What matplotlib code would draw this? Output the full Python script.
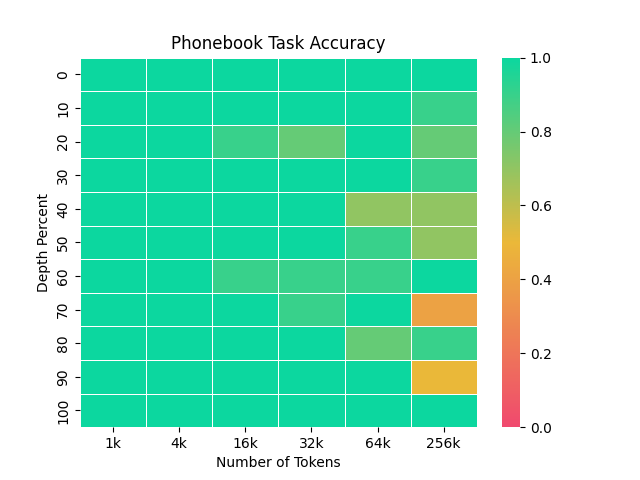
import numpy as np
import pandas as pd
import matplotlib
matplotlib.use('Agg')
import matplotlib.pyplot as plt
import seaborn as sns
from matplotlib.colors import LinearSegmentedColormap

# ── data ──
token_labels = ['1k', '4k', '16k', '32k', '64k', '256k']
depth_labels = [0, 10, 20, 30, 40, 50, 60, 70, 80, 90, 100]

acc_1k   = [1.0, 1.0, 1.0, 1.0, 1.0, 1.0, 1.0, 1.0, 1.0, 1.0, 1.0]
acc_4k   = [1.0, 1.0, 1.0, 1.0, 1.0, 1.0, 1.0, 1.0, 1.0, 1.0, 1.0]
acc_16k  = [1.0, 1.0, 0.9, 1.0, 1.0, 1.0, 0.9, 1.0, 1.0, 1.0, 1.0]
acc_32k  = [1.0, 1.0, 0.8, 1.0, 1.0, 1.0, 0.9, 0.9, 1.0, 1.0, 1.0]
acc_64k  = [1.0, 1.0, 1.0, 1.0, 0.7, 0.9, 0.9, 1.0, 0.8, 1.0, 1.0]
acc_256k = [1.0, 0.9, 0.8, 0.9, 0.7, 0.7, 1.0, 0.4, 0.9, 0.5, 1.0]

df = pd.DataFrame({
    '1k': acc_1k, '4k': acc_4k, '16k': acc_16k,
    '32k': acc_32k, '64k': acc_64k, '256k': acc_256k,
}, index=depth_labels)[token_labels]

cmap = LinearSegmentedColormap.from_list('custom', ['#F0496E', '#EBB839', '#0CD79F'])

fig, ax = plt.subplots(figsize=(6.4, 4.8), dpi=100)
sns.heatmap(df, ax=ax, cmap=cmap, vmin=0, vmax=1,
            linewidths=0.5, linecolor='white', cbar=True)

ax.set_title('Phonebook Task Accuracy')
ax.set_xlabel('Number of Tokens')
ax.set_ylabel('Depth Percent')

fig.savefig('out.png', dpi=100)
plt.close()
